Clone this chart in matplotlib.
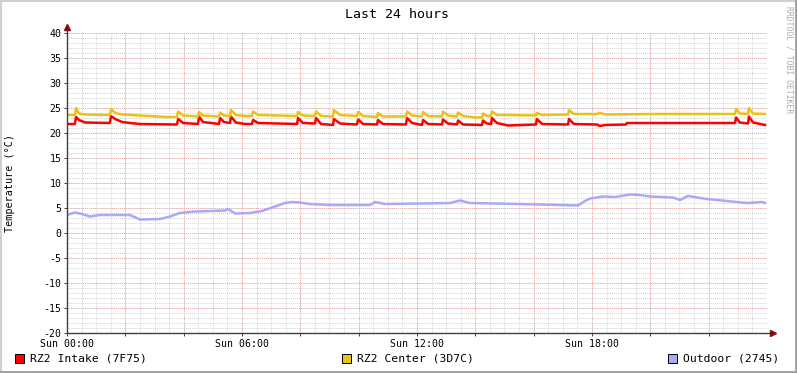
import matplotlib
matplotlib.use('Agg')
import matplotlib.pyplot as plt
from matplotlib.patches import Rectangle
from matplotlib.lines import Line2D

# values (time in hours since Sun 00:00)
t_intake = [0.0, 0.27, 0.31, 0.41, 0.62, 1.47, 1.51, 1.65, 1.89, 2.16, 2.50, 3.77, 3.81, 3.98,
            4.49, 4.53, 4.66, 5.21, 5.25, 5.38, 5.59, 5.62, 5.79, 6.10, 6.34, 6.38, 6.55, 7.89,
            7.92, 8.09, 8.50, 8.54, 8.71, 9.12, 9.15, 9.36, 9.94, 9.98, 10.15, 10.63, 10.66,
            10.83, 11.62, 11.66, 11.83, 12.17, 12.21, 12.38, 12.86, 12.89, 13.06, 13.37, 13.41,
            13.58, 14.23, 14.26, 14.40, 14.54, 14.57, 14.74, 15.12, 16.08, 16.11, 16.29, 17.18,
            17.21, 17.38, 18.17, 18.27, 18.45, 19.17, 19.20, 22.90, 22.94, 23.07, 23.35, 23.38,
            23.52, 23.69, 23.93]
v_intake = [21.8, 21.8, 23.2, 22.6, 22.1, 22.0, 23.4, 22.8, 22.2, 22.0, 21.8, 21.7, 22.8, 22.0,
            21.8, 23.3, 22.2, 21.8, 23.0, 22.2, 22.0, 23.3, 22.1, 21.8, 21.8, 22.6, 22.0, 21.8,
            23.0, 22.0, 21.9, 23.0, 21.8, 21.6, 22.8, 21.9, 21.7, 22.7, 21.8, 21.7, 22.6,
            21.8, 21.7, 23.0, 22.0, 21.6, 22.6, 21.8, 21.7, 22.7, 21.9, 21.7, 22.5,
            21.7, 21.6, 22.5, 21.9, 21.8, 23.0, 22.0, 21.5, 21.7, 22.8, 21.8, 21.7,
            22.8, 21.8, 21.7, 21.4, 21.6, 21.7, 22.0, 22.0, 23.1, 22.1, 21.9, 23.3,
            22.1, 21.9, 21.6]

t_center = [0.0, 0.27, 0.31, 0.41, 0.62, 1.47, 1.51, 1.65, 1.89, 2.50, 3.40, 3.77, 3.81, 3.98,
            4.49, 4.53, 4.66, 5.21, 5.25, 5.38, 5.59, 5.62, 5.79, 6.10, 6.34, 6.38, 6.55, 7.89,
            7.92, 8.09, 8.50, 8.54, 8.71, 9.12, 9.15, 9.36, 9.94, 9.98, 10.15, 10.63, 10.66,
            10.83, 11.62, 11.66, 11.83, 12.17, 12.21, 12.38, 12.86, 12.89, 13.06, 13.37, 13.41,
            13.58, 14.00, 14.23, 14.26, 14.40, 14.54, 14.57, 14.74, 15.12, 16.08, 16.11, 16.29,
            17.18, 17.21, 17.38, 18.17, 18.27, 18.45, 20.00, 22.90, 22.94, 23.07, 23.35, 23.38,
            23.52, 23.93]
v_center = [23.6, 23.6, 25.0, 23.9, 23.7, 23.6, 24.8, 24.0, 23.7, 23.5, 23.2, 23.2, 24.3, 23.5,
            23.3, 24.2, 23.5, 23.3, 24.1, 23.5, 23.4, 24.6, 23.6, 23.4, 23.4, 24.3, 23.6, 23.4,
            24.2, 23.5, 23.4, 24.3, 23.4, 23.3, 24.6, 23.6, 23.4, 24.2, 23.4, 23.2, 24.0,
            23.3, 23.3, 24.3, 23.5, 23.3, 24.2, 23.4, 23.3, 24.3, 23.5, 23.3, 24.1,
            23.4, 23.1, 23.1, 23.9, 23.4, 23.4, 24.3, 23.6, 23.6, 23.5, 24.0, 23.6,
            23.7, 24.6, 23.8, 23.8, 24.0, 23.7, 23.8, 23.8, 24.8, 23.9, 23.8, 25.0,
            23.9, 23.8]

t_outdoor = [0.0, 0.27, 0.51, 0.79, 1.13, 2.16, 2.50, 3.19, 3.53, 3.87, 4.39, 4.90, 5.42, 5.52,
             5.76, 6.27, 6.69, 7.13, 7.47, 7.71, 7.99, 8.33, 9.02, 10.39, 10.56, 10.90, 12.10,
             13.13, 13.47, 13.82, 15.53, 16.90, 17.52, 17.76, 17.93, 18.38, 18.79, 19.30, 19.65,
             19.99, 20.78, 21.02, 21.29, 21.94, 22.63, 23.31, 23.83, 23.93]
v_outdoor = [3.6, 4.1, 3.8, 3.3, 3.6, 3.6, 2.7, 2.8, 3.3, 4.0, 4.3, 4.4, 4.5, 4.8,
             3.9, 4.0, 4.4, 5.3, 6.0, 6.2, 6.1, 5.8, 5.6, 5.6, 6.2, 5.8, 5.9,
             6.0, 6.5, 6.0, 5.8, 5.6, 5.5, 6.4, 6.9, 7.3, 7.2, 7.7, 7.6,
             7.3, 7.1, 6.6, 7.4, 6.8, 6.4, 6.0, 6.2, 6.0]

x_ticks = [0, 2, 4, 6, 8, 10, 12, 14, 16, 18, 20, 22]
x_labels = ['Sun 00:00', '', '', 'Sun 06:00', '', '', 'Sun 12:00', '', '', 'Sun 18:00', '', '']
y_ticks = [40, 35, 30, 25, 20, 15, 10, 5, 0, -5, -10, -15, -20]

series = [
    ('RZ2 Intake (7F75)', t_intake, v_intake, '#FF0000'),
    ('RZ2 Center (3D7C)', t_center, v_center, '#EAC117'),
    ('Outdoor (2745)', t_outdoor, v_outdoor, '#A9A9F7'),
]

W, H = 797, 373
mono = 'DejaVu Sans Mono'
plt.rcParams['font.family'] = mono

fig = plt.figure(figsize=(W / 100, H / 100), dpi=100, facecolor='white')
ax = fig.add_axes([67 / W, 40 / H, 700 / W, 300 / H])
ax.set_facecolor('white')

dot = (0, (1, 1))
# minor grid
for h in range(0, 48):
    ax.axvline(h * 0.5, color='#D4D4D4', lw=0.7, ls=dot, zorder=1)
for v in range(-20, 41):
    ax.axhline(v, color='#D4D4D4', lw=0.7, ls=dot, zorder=1)
# major grid
for h in x_ticks:
    ax.axvline(h, color='#EBA8A8', lw=0.7, ls=dot, zorder=1.5)
for v in y_ticks:
    ax.axhline(v, color='#EBA8A8', lw=0.7, ls=dot, zorder=1.5)

for name, t, v, c in series:
    ax.plot(t, v, color=c, lw=1.8, zorder=3)

ax.set_xlim(0, 24)
ax.set_ylim(-20, 40)
ax.set_xticks(x_ticks)
ax.set_xticklabels(x_labels)
ax.set_yticks(y_ticks)
ax.set_yticklabels([str(y) for y in y_ticks])
ax.tick_params(axis='both', length=2, width=0.7, color='#404040', labelsize=7.1, pad=2)
ax.tick_params(axis='x', pad=2)
for s in ax.spines.values():
    s.set_visible(False)

# axes with arrows
ax.add_line(Line2D([0, 1.006], [0, 0], transform=ax.transAxes, color='#404040', lw=1,
                   clip_on=False, zorder=4))
ax.add_line(Line2D([0, 0], [0, 1.017], transform=ax.transAxes, color='#404040', lw=1,
                   clip_on=False, zorder=4))
ax.plot([1.008], [0], marker='>', ms=4, color='#7F1010', transform=ax.transAxes, clip_on=False, zorder=5)
ax.plot([0], [1.02], marker='^', ms=4, color='#7F1010', transform=ax.transAxes, clip_on=False, zorder=5)

fig.text(397 / W, 1 - 14 / H, 'Last 24 hours', ha='center', va='center', fontsize=9.5)
fig.text(10 / W, 40 / H + 150 / H, 'Temperature (°C)', rotation=90, ha='center', va='center',
         fontsize=7.3)
fig.text(789 / W, 1 - 6 / H, 'RRDTOOL / TOBI OETIKER', rotation=270, ha='center', va='top',
         fontsize=5.8, color='#AAAAAA')

# legend
legend_x = [15, 342, 668]
for (name, t, v, c), lx in zip(series, legend_x):
    fig.add_artist(Rectangle((lx / W, 1 - 363 / H), 9 / W, 9 / H, transform=fig.transFigure,
                             facecolor=c, edgecolor='black', lw=0.7))
    fig.text((lx + 15) / W, 1 - 358.5 / H, name, ha='left', va='center', fontsize=8.2)

# border shading
fig.add_artist(Line2D([0, 1], [1 - 1 / H, 1 - 1 / H], transform=fig.transFigure, color='#CFCFCF', lw=1.5))
fig.add_artist(Line2D([1 / W, 1 / W], [0, 1], transform=fig.transFigure, color='#CFCFCF', lw=1.5))
fig.add_artist(Line2D([0, 1], [1.2 / H, 1.2 / H], transform=fig.transFigure, color='#9E9E9E', lw=2))
fig.add_artist(Line2D([1 - 1.2 / W, 1 - 1.2 / W], [0, 1], transform=fig.transFigure, color='#9E9E9E', lw=2))

fig.savefig('out.png', dpi=100, facecolor='white')
